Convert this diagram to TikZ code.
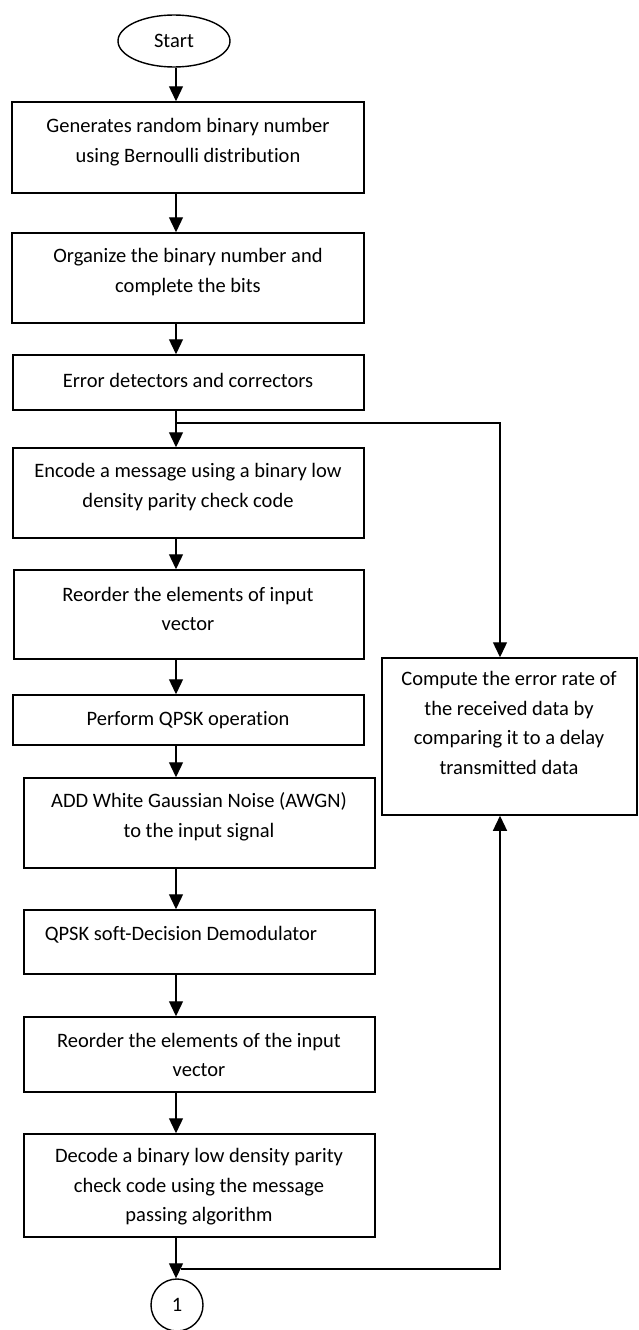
\documentclass[tikz,border=0pt]{standalone}
\usepackage{fontspec}
\setmainfont{Carlito}[Ligatures={NoCommon}]
\usetikzlibrary{arrows.meta,shapes.geometric}

\begin{document}
\begin{tikzpicture}[x=1pt,y=-1pt,
  box/.style={draw, rectangle, line width=1.5pt, inner sep=0pt},
  txt/.style={align=center, inner sep=0pt, font=\fontsize{20.5}{29.5}\selectfont},
  term/.style={draw, line width=1.4pt, inner sep=0pt, font=\fontsize{20.5}{24}\selectfont},
  arr/.style={line width=1.3pt, -{Triangle[width=14pt,length=15pt]}}]

% page frame
\fill[white] (0,0) rectangle (638,1330);
\useasboundingbox (0,0) rectangle (638,1330);

% terminals
\node[term, ellipse, minimum width=112pt, minimum height=52pt] (start) at (174,41) {Start};
\node[term, circle, minimum size=52pt] (one) at (177,1305) {1};

% process boxes
\node[box, minimum width=352pt, minimum height=91pt] (b1) at (188,147.5) {};
\node[box, minimum width=352pt, minimum height=90pt] (b2) at (188,278) {};
\node[box, minimum width=351pt, minimum height=55pt] (b3) at (188.5,382.5) {};
\node[box, minimum width=351pt, minimum height=90pt] (b4) at (188.5,493) {};
\node[box, minimum width=350pt, minimum height=89pt] (b5) at (189,614.5) {};
\node[box, minimum width=351pt, minimum height=50pt] (b6) at (188.5,720) {};
\node[box, minimum width=351pt, minimum height=90pt] (b7) at (199.5,823) {};
\node[box, minimum width=351pt, minimum height=64pt] (b8) at (199.5,942) {};
\node[box, minimum width=351pt, minimum height=75pt] (b9) at (199.5,1054.5) {};
\node[box, minimum width=351pt, minimum height=103pt] (b10) at (199.5,1185.5) {};
\node[box, minimum width=255pt, minimum height=157pt] (cmp) at (509.5,736.5) {};

% box texts
\node[txt] (t1) at (188,142) {Generates random binary number\\using Bernoulli distribution};
\node[txt] (t2) at (188,272) {Organize the binary number and\\complete the bits};
\node[txt] (t3) at (188,380) {Error detectors and correctors};
\node[txt] (t4) at (188,487) {Encode a message using a binary low\\density parity check code};
\node[txt] (t5) at (188,609) {Reorder the elements of input\\vector};
\node[txt] (t6) at (188,720) {Perform QPSK operation};
\node[txt] (t7) at (199,817) {ADD White Gaussian Noise (AWGN)\\to the input signal};
\node[txt] (t8) at (181,935) {QPSK soft-Decision Demodulator};
\node[txt] (t9) at (199,1055) {Reorder the elements of the input\\vector};
\node[txt] (t10) at (199,1187) {Decode a binary low density parity\\check code using the message\\passing algorithm};
\node[txt] (tc) at (509,723) {Compute the error rate of\\the received data by\\comparing it to a delay\\transmitted data};

% columns and branch points
\coordinate (col) at (176,0);
\coordinate (fb) at (500,0);
\coordinate (jt) at (176,423);
\coordinate (jb) at (181,1269);

% main flow
\draw[arr] (col |- start.south) -- (col |- b1.north);
\draw[arr] (col |- b1.south) -- (col |- b2.north);
\draw[arr] (col |- b2.south) -- (col |- b3.north);
\draw[arr] (col |- b3.south) -- (col |- b4.north);
\draw[arr] (col |- b4.south) -- (col |- b5.north);
\draw[arr] (col |- b5.south) -- (col |- b6.north);
\draw[arr] (col |- b6.south) -- (col |- b7.north);
\draw[arr] (col |- b7.south) -- (col |- b8.north);
\draw[arr] (col |- b8.south) -- (col |- b9.north);
\draw[arr] (col |- b9.south) -- (col |- b10.north);
\draw[arr] (col |- b10.south) -- (col |- one.north);

% branches into the error-rate block
\draw[arr] (jt) -| (fb |- cmp.north);
\draw[arr] (jb) -| (fb |- cmp.south);
\end{tikzpicture}
\end{document}
